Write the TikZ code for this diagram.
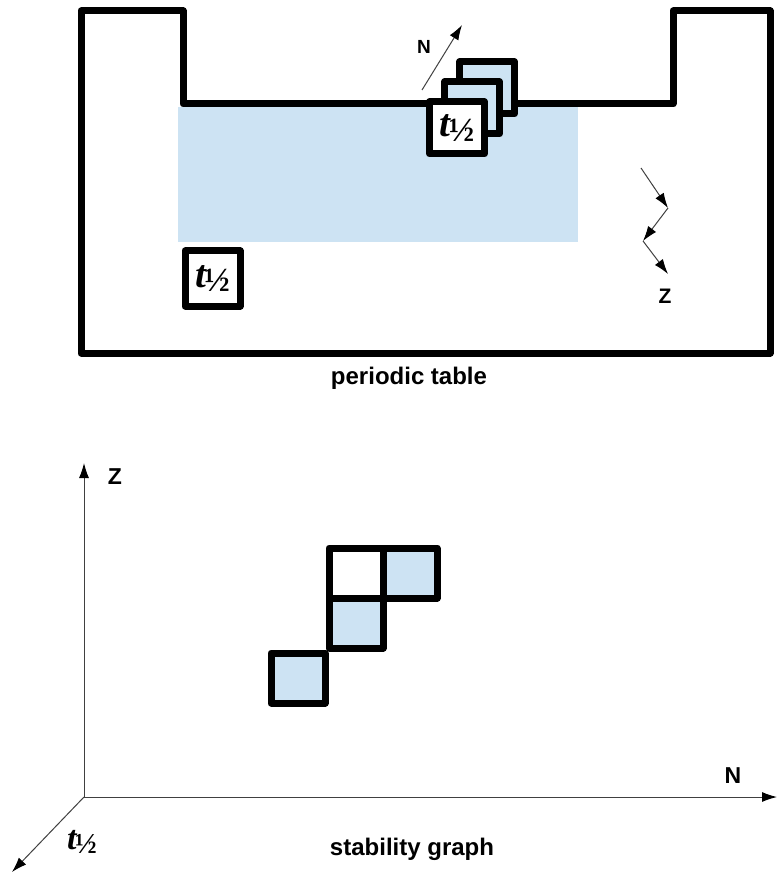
\documentclass[tikz,border=0pt]{standalone}
\usepackage{fontspec}
\setmainfont{Liberation Sans}
\newfontfamily\halffont{Liberation Serif}
\usetikzlibrary{arrows.meta}

\definecolor{cellblue}{RGB}{205,227,243}
\newcommand{\thalf}[2]{{\halffont\fontsize{#1}{#1}\selectfont\bfseries\itshape t\hspace{-0.04em}\upshape\fontsize{#2}{#1}\selectfont\raisebox{-0.14em}{½}}}

\tikzset{
  wall/.style={line width=7pt, line join=round},
  cell/.style={draw, line width=7pt, line join=round, fill=cellblue, inner sep=0pt, minimum width=54pt, minimum height=50pt},
  pointer/.style={line width=1pt, draw=black!75, -{Latex[length=15pt,width=10pt,color=black]}},
  lbl/.style={font=\bfseries\fontsize{#1}{#1}\selectfont},
  lbl/.default=24
}

\begin{document}
\begin{tikzpicture}[x=1pt, y=-1pt]
\useasboundingbox (0,0) rectangle (779,874);

% 1. Periodic table: blue block and outline
\fill[cellblue] (178,107) rectangle (578,242);
\draw[wall] (81,11) -- (183,11) -- (183,104) -- (673,104) -- (673,11)
  -- (770,11) -- (770,353) -- (81,353) -- cycle;

% 2. Half-life boxes in the table
\node[cell, fill=white, minimum width=55pt, minimum height=55pt] (tbox) at (212.5,278.5) {\thalf{39}{34}};
\node[cell, minimum width=55pt, minimum height=52pt] (back) at (487,88) {};
\node[cell, minimum width=55pt, minimum height=52pt] (mid) at (472,108) {};
\node[cell, fill=white, minimum width=55pt, minimum height=52pt] (front) at (457,128) {\thalf{39}{34}};

% 3. Direction of N across the stack
\coordinate (n0) at (422,90);
\coordinate (n1) at (462,25);
\draw[pointer] (n0) -- (n1);
\node[lbl=19] (Ntop) at (424,47) {N};

% 4. Zigzag direction of Z
\coordinate (z0) at (641,168);
\coordinate (z1) at (668,208);
\coordinate (z2) at (643,241);
\coordinate (z3) at (668,274);
\draw[pointer] (z0) -- (z1);
\draw[pointer] (z1) -- (z2);
\draw[pointer] (z2) -- (z3);
\node[lbl=21] (Ztop) at (665,296) {Z};

\node[lbl=24] (ptab) at (409,378) {periodic table};

% 5. Axes of the stability graph
\coordinate (O) at (84,797);
\coordinate (Zend) at (84,463);
\coordinate (Nend) at (777,797);
\coordinate (Tend) at (12,872);
\draw[pointer] (O) -- (Zend);
\draw[pointer] (O) -- (Nend);
\draw[pointer] (O) -- (Tend);
\node[lbl=23] (Zax) at (115,477) {Z};
\node[lbl=23] (Nax) at (733,776) {N};
\node (Tax) at (82,842) {\thalf{34}{29}};

% 6. Nuclide cells
\node[cell] (c1) at (298,678) {};
\node[cell] (c2) at (356,623) {};
\node[cell, fill=white] (c3) at (356,573) {};
\node[cell] (c4) at (410,573) {};

\node[lbl=24] (sgraph) at (412,849) {stability graph};

\end{tikzpicture}
\end{document}
